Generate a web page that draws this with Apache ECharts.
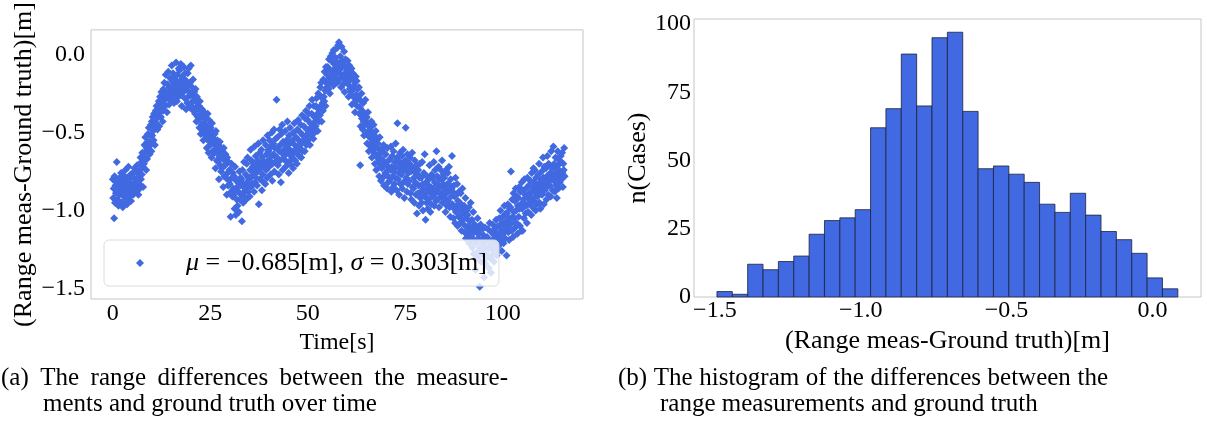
<!DOCTYPE html>
<html>
<head>
<meta charset="utf-8">
<script src="https://cdn.jsdelivr.net/npm/echarts@6/dist/echarts.min.js"></script>
<style>
  html, body { margin: 0; padding: 0; background: #fff; }
  #chart { width: 1207px; height: 434px; }
</style>
</head>
<body>
<div id="chart"></div>
<script>
// ---- (a) range error over time: one row per second of logging, values in metres ----
const rangeErrorBySecond = [
  [-0.80,-0.92,-0.86,-1.05,-0.78,-0.95,-0.84,-0.89,-0.82],
  [-0.69,-0.88,-0.93,-0.81,-0.97,-0.84,-0.90,-0.79,-0.87],
  [-0.83,-0.76,-0.95,-0.88,-0.80,-0.98,-0.85,-0.91,-0.78],
  [-0.90,-0.82,-0.74,-0.93,-0.86,-0.79,-0.96,-0.88,-0.84],
  [-0.72,-0.87,-0.80,-0.91,-0.85,-0.77,-0.94,-0.83,-0.89],
  [-0.84,-0.76,-0.90,-0.79,-0.86,-0.73,-0.88,-0.82,-0.75],
  [-0.80,-0.88,-0.71,-0.84,-0.76,-0.90,-0.78,-0.83,-0.86],
  [-0.74,-0.66,-0.80,-0.69,-0.77,-0.63,-0.72,-0.85,-0.68],
  [-0.70,-0.58,-0.66,-0.53,-0.62,-0.74,-0.60,-0.67,-0.56],
  [-0.51,-0.60,-0.47,-0.56,-0.64,-0.52,-0.58,-0.45,-0.62],
  [-0.43,-0.52,-0.40,-0.49,-0.55,-0.38,-0.46,-0.58,-0.44],
  [-0.36,-0.44,-0.33,-0.41,-0.48,-0.35,-0.39,-0.30,-0.46],
  [-0.37,-0.27,-0.31,-0.40,-0.24,-0.34,-0.29,-0.43,-0.36],
  [-0.22,-0.30,-0.18,-0.26,-0.33,-0.13,-0.28,-0.24,-0.37],
  [-0.19,-0.27,-0.11,-0.24,-0.32,-0.21,-0.15,-0.29,-0.25],
  [-0.22,-0.07,-0.17,-0.28,-0.12,-0.24,-0.31,-0.19,-0.14],
  [-0.16,-0.25,-0.05,-0.21,-0.30,-0.13,-0.18,-0.27,-0.09],
  [-0.23,-0.10,-0.17,-0.26,-0.06,-0.20,-0.33,-0.14,-0.21],
  [-0.15,-0.24,-0.08,-0.19,-0.28,-0.12,-0.22,-0.35,-0.17],
  [-0.20,-0.31,-0.12,-0.27,-0.09,-0.24,-0.34,-0.18,-0.26],
  [-0.07,-0.25,-0.33,-0.21,-0.30,-0.16,-0.36,-0.27,-0.24],
  [-0.29,-0.38,-0.22,-0.34,-0.43,-0.27,-0.31,-0.40,-0.35],
  [-0.42,-0.33,-0.47,-0.30,-0.39,-0.51,-0.36,-0.45,-0.35],
  [-0.50,-0.40,-0.55,-0.44,-0.37,-0.48,-0.41,-0.52,-0.45],
  [-0.46,-0.60,-0.53,-0.38,-0.49,-0.63,-0.42,-0.56,-0.51],
  [-0.58,-0.47,-0.53,-0.66,-0.44,-0.62,-0.50,-0.57,-0.54],
  [-0.63,-0.51,-0.57,-0.73,-0.49,-0.60,-0.68,-0.55,-0.64],
  [-0.69,-0.58,-0.80,-0.62,-0.56,-0.71,-0.66,-0.75,-0.60],
  [-0.73,-0.62,-0.66,-0.85,-0.60,-0.78,-0.68,-0.71,-0.64],
  [-0.79,-0.70,-0.90,-0.66,-0.76,-0.84,-0.69,-0.81,-0.74],
  [-0.83,-0.74,-1.04,-0.88,-0.70,-0.79,-0.91,-0.76,-0.86],
  [-0.90,-0.78,-0.99,-0.72,-0.87,-1.03,-0.81,-0.93,-0.85],
  [-0.97,-0.82,-0.88,-1.01,-0.75,-0.93,-0.84,-0.79,-0.90],
  [-0.80,-1.07,-0.74,-0.89,-0.95,-0.83,-0.69,-0.91,-0.86],
  [-0.86,-0.77,-0.93,-0.70,-0.82,-0.66,-0.88,-0.79,-0.84],
  [-0.80,-0.91,-0.74,-0.61,-0.85,-0.68,-0.78,-0.83,-0.72],
  [-0.77,-0.70,-0.88,-0.59,-0.82,-0.75,-0.65,-0.79,-0.72],
  [-0.84,-0.68,-0.75,-0.57,-0.96,-0.73,-0.63,-0.80,-0.70],
  [-0.73,-0.61,-0.87,-0.66,-0.77,-0.55,-0.82,-0.69,-0.71],
  [-0.70,-0.83,-0.58,-0.74,-0.64,-0.79,-0.52,-0.68,-0.62],
  [-0.61,-0.72,-0.55,-0.68,-0.77,-0.59,-0.65,-0.50,-0.81],
  [-0.70,-0.57,-0.64,-0.48,-0.75,-0.60,-0.69,-0.54,-0.66],
  [-0.29,-0.66,-0.53,-0.71,-0.59,-0.77,-0.62,-0.48,-0.68],
  [-0.58,-0.82,-0.51,-0.63,-0.45,-0.74,-0.56,-0.67,-0.61],
  [-0.65,-0.57,-0.49,-0.72,-0.62,-0.55,-0.69,-0.43,-0.60],
  [-0.58,-0.76,-0.52,-0.64,-0.47,-0.68,-0.56,-0.71,-0.62],
  [-0.66,-0.55,-0.73,-0.50,-0.63,-0.44,-0.58,-0.68,-0.61],
  [-0.53,-0.63,-0.70,-0.48,-0.60,-0.42,-0.55,-0.65,-0.58],
  [-0.60,-0.50,-0.45,-0.66,-0.57,-0.39,-0.62,-0.52,-0.55],
  [-0.46,-0.56,-0.62,-0.41,-0.53,-0.36,-0.58,-0.48,-0.51],
  [-0.42,-0.55,-0.38,-0.49,-0.33,-0.58,-0.44,-0.47,-0.52],
  [-0.38,-0.29,-0.48,-0.45,-0.54,-0.33,-0.40,-0.50,-0.43],
  [-0.46,-0.33,-0.28,-0.40,-0.38,-0.49,-0.25,-0.35,-0.43],
  [-0.26,-0.39,-0.21,-0.33,-0.18,-0.43,-0.28,-0.31,-0.36],
  [-0.16,-0.27,-0.30,-0.11,-0.23,-0.33,-0.08,-0.18,-0.21],
  [-0.13,-0.08,-0.19,-0.22,-0.03,-0.15,-0.25,-0.10,-0.01],
  [-0.04,-0.17,-0.14, 0.01,-0.11,-0.20, 0.03,-0.06,-0.09],
  [-0.09,-0.02,-0.15,-0.12, 0.04,-0.18,-0.05, 0.06,-0.07],
  [ 0.08,-0.10,-0.16,-0.01,-0.13,-0.21, 0.05,-0.04,-0.08],
  [-0.06,-0.19,-0.15, 0.02,-0.24,-0.12,-0.03,-0.08,-0.14],
  [-0.17,-0.10,-0.04,-0.19,-0.27,-0.12,-0.07,-0.22,-0.16],
  [-0.24,-0.15,-0.09,-0.32,-0.21,-0.12,-0.27,-0.17,-0.22],
  [-0.20,-0.37,-0.30,-0.14,-0.26,-0.17,-0.33,-0.22,-0.28],
  [-0.27,-0.21,-0.38,-0.34,-0.71,-0.46,-0.30,-0.25,-0.41],
  [-0.36,-0.48,-0.31,-0.43,-0.52,-0.39,-0.45,-0.29,-0.41],
  [-0.51,-0.40,-0.57,-0.44,-0.37,-0.49,-0.62,-0.46,-0.53],
  [-0.47,-0.59,-0.54,-0.43,-0.66,-0.50,-0.56,-0.61,-0.45],
  [-0.63,-0.52,-0.70,-0.58,-0.49,-0.74,-0.55,-0.66,-0.60],
  [-0.57,-0.69,-0.64,-0.78,-0.53,-0.72,-0.61,-0.81,-0.67],
  [-0.73,-0.61,-0.79,-0.68,-0.58,-0.84,-0.70,-0.64,-0.76],
  [-0.64,-0.77,-0.71,-0.86,-0.60,-0.74,-0.82,-0.68,-0.79],
  [-0.81,-0.67,-0.74,-0.59,-0.88,-0.72,-0.65,-0.78,-0.85],
  [-0.62,-0.75,-0.83,-0.69,-0.79,-0.57,-0.72,-0.87,-0.66],
  [-0.44,-0.80,-0.68,-0.76,-0.90,-0.73,-0.63,-0.83,-0.70],
  [-0.77,-0.65,-0.86,-0.71,-0.61,-0.82,-0.74,-0.92,-0.69],
  [-0.68,-0.47,-0.79,-0.73,-0.88,-0.64,-0.83,-0.76,-0.70],
  [-0.81,-0.70,-0.66,-0.89,-0.75,-0.93,-0.72,-0.63,-0.85],
  [-0.73,-0.86,-0.79,-0.95,-0.68,-0.82,-0.76,-0.90,-0.71],
  [-1.02,-0.77,-0.89,-0.74,-0.84,-0.97,-0.79,-0.70,-0.92],
  [-0.88,-0.79,-0.95,-0.69,-0.83,-1.00,-0.86,-0.76,-0.91],
  [-0.64,-0.90,-1.06,-0.82,-0.95,-0.78,-0.87,-0.99,-0.84],
  [-0.93,-0.80,-0.71,-0.88,-1.01,-0.85,-0.96,-0.77,-0.90],
  [-0.79,-0.91,-0.86,-0.69,-0.97,-0.82,-0.74,-0.89,-0.94],
  [-0.62,-0.87,-0.78,-0.93,-0.84,-0.72,-0.98,-0.80,-0.89],
  [-0.85,-0.74,-0.91,-0.80,-0.68,-0.95,-0.83,-0.77,-0.88],
  [-0.79,-0.92,-0.86,-1.01,-0.74,-0.89,-0.97,-0.83,-0.76],
  [-0.94,-0.83,-0.72,-0.98,-0.87,-1.04,-0.80,-0.91,-0.86],
  [-0.65,-0.96,-0.88,-1.05,-0.84,-0.99,-0.91,-1.08,-0.79],
  [-1.01,-0.90,-0.97,-0.83,-1.10,-0.94,-1.04,-0.88,-0.99],
  [-0.95,-1.08,-0.89,-1.03,-1.13,-0.98,-0.86,-1.06,-1.01],
  [-1.09,-0.97,-1.14,-1.02,-0.92,-1.18,-1.05,-1.00,-1.11],
  [-1.03,-1.16,-1.10,-0.98,-1.21,-1.07,-1.13,-0.95,-1.19],
  [-1.17,-1.06,-1.24,-1.11,-1.01,-1.28,-1.14,-1.09,-1.20],
  [-1.38,-1.10,-1.21,-1.14,-1.30,-1.05,-1.18,-1.26,-1.12],
  [-1.15,-1.49,-1.24,-1.09,-1.33,-1.19,-1.28,-1.12,-1.22],
  [-1.27,-1.16,-1.43,-1.21,-1.11,-1.34,-1.24,-1.18,-1.30],
  [-1.17,-1.29,-1.12,-1.25,-1.37,-1.20,-1.08,-1.23,-1.31],
  [-1.40,-1.14,-1.25,-1.19,-1.09,-1.28,-1.22,-1.33,-1.16],
  [-1.12,-1.24,-1.19,-1.06,-1.29,-1.15,-1.21,-1.10,-1.26],
  [-1.17,-1.05,-1.22,-1.10,-1.00,-1.19,-1.13,-1.26,-1.08],
  [-1.04,-1.15,-1.21,-1.09,-0.97,-1.12,-1.18,-1.02,-1.07],
  [-1.29,-1.02,-1.11,-0.96,-1.14,-1.05,-1.19,-0.99,-1.09],
  [-0.98,-0.75,-1.08,-1.13,-0.93,-1.04,-1.17,-0.89,-1.01],
  [-1.05,-0.94,-1.11,-0.86,-1.00,-1.08,-0.91,-1.15,-0.97],
  [-0.92,-1.04,-0.85,-0.99,-1.10,-0.88,-0.96,-1.13,-0.82],
  [-0.99,-1.13,-0.87,-0.93,-1.05,-0.80,-0.96,-0.90,-1.02],
  [-0.86,-0.97,-1.08,-0.79,-0.92,-1.01,-0.84,-0.95,-0.89],
  [-0.95,-0.81,-0.88,-1.03,-0.76,-0.92,-0.98,-0.85,-0.73],
  [-0.82,-0.94,-0.74,-0.89,-1.00,-0.79,-0.87,-0.96,-0.84],
  [-0.91,-0.77,-0.86,-0.70,-0.95,-0.82,-0.99,-0.88,-0.80],
  [-0.75,-0.90,-0.84,-0.66,-0.79,-0.96,-0.72,-0.87,-0.81],
  [-0.86,-0.73,-0.93,-0.78,-0.65,-0.83,-0.90,-0.70,-0.81],
  [-0.71,-0.84,-0.76,-0.91,-0.62,-0.80,-0.73,-0.87,-0.78],
  [-0.59,-0.81,-0.70,-0.88,-0.76,-0.66,-0.84,-0.73,-0.92],
  [-0.79,-0.62,-0.71,-0.86,-0.74,-0.68,-0.82,-0.77,-0.65],
  [-0.69,-0.80,-0.63,-0.76,-0.85,-0.70,-0.74,-0.60,-0.78]
];
const meanM = -0.685;
const stdM = 0.303;
const timeTicks = [0, 25, 50, 75, 100];
const errorTicks = [-1.5, -1.0, -0.5, 0.0];

// ---- (b) histogram of the same errors: 30 bins ----
const binEdges = [
  -1.4930, -1.4403, -1.3877, -1.3350, -1.2823, -1.2297, -1.1770, -1.1243,
  -1.0717, -1.0190, -0.9663, -0.9137, -0.8610, -0.8083, -0.7557, -0.7030,
  -0.6503, -0.5977, -0.5450, -0.4923, -0.4397, -0.3870, -0.3343, -0.2817,
  -0.2290, -0.1763, -0.1237, -0.0710, -0.0183,  0.0343,  0.0870
];
const binCounts = [2, 1, 12, 10, 13, 15, 23, 28, 29, 32, 62, 69, 89, 70, 95,
                   97, 68, 47, 48, 45, 42, 34, 31, 38, 30, 24, 21, 16, 7, 3];
const histXTicks = [-1.5, -1.0, -0.5, 0.0];
const histYTicks = [0, 25, 50, 75, 100];

const captionA = ['(a) The range differences between the measure-', 'ments and ground truth over time'];
const captionB = ['(b) The histogram of the differences between the', 'range measurements and ground truth'];

const FONT = '"Liberation Serif", "DejaVu Serif", serif';
const BLUE = '#4169E1';
const FRAME = '#c6c6c6';
const CAPTION_FONT = '25px ' + FONT;

const minus = s => String(s).replace(/-/g, '\u2212');
const oneDecimal = v => minus(Number(v).toFixed(1));

// readings spread evenly across each second
const scatterPoints = [];
rangeErrorBySecond.forEach((row, sec) => {
  row.forEach((v, k) => scatterPoints.push([sec + k / row.length, v]));
});

const seriesName = '\u03bc = ' + minus(meanM.toFixed(3)) + '[m], \u03c3 = ' + stdM.toFixed(3) + '[m]';

const tickText = { fontFamily: FONT, fontSize: 24, color: '#000' };
const nameText = { fontFamily: FONT, fontSize: 26, color: '#000' };

// justified caption line: words spread so the line runs from left to right
const measureCtx = document.createElement('canvas').getContext('2d');
function justifiedLine(text, left, right, top) {
  measureCtx.font = CAPTION_FONT;
  const words = text.split(' ');
  const widths = words.map(w => measureCtx.measureText(w).width);
  const gap = (right - left - widths.reduce((a, b) => a + b, 0)) / (words.length - 1);
  let x = left;
  return words.map((w, i) => {
    const el = { type: 'text', left: x, top: top, style: { text: w, font: CAPTION_FONT, fill: '#000' } };
    x += widths[i] + gap;
    return el;
  });
}
function plainLine(text, left, top) {
  return [{ type: 'text', left: left, top: top, style: { text: text, font: CAPTION_FONT, fill: '#000' } }];
}

const chart = echarts.init(document.getElementById('chart'), null, { renderer: 'canvas' });

chart.setOption({
  animation: false,
  backgroundColor: '#fff',
  grid: [
    { left: 91, top: 29, width: 492, height: 270, show: true, borderColor: FRAME, borderWidth: 1, containLabel: false },
    { left: 694, top: 19, width: 507, height: 278, show: true, borderColor: FRAME, borderWidth: 1, containLabel: false }
  ],
  xAxis: [
    {
      gridIndex: 0, type: 'value', min: -5.6, max: 120.6,
      axisLine: { show: false }, axisTick: { show: false }, splitLine: { show: false },
      axisLabel: Object.assign({ customValues: timeTicks, margin: 3, formatter: v => minus(v) }, tickText),
      name: 'Time[s]', nameLocation: 'middle', nameGap: 25,
      nameTextStyle: tickText
    },
    {
      gridIndex: 1, type: 'value', min: -1.5716, max: 0.1664,
      axisLine: { show: false }, axisTick: { show: false }, splitLine: { show: false },
      axisLabel: Object.assign({ customValues: histXTicks, margin: 2, formatter: oneDecimal }, tickText),
      name: '(Range meas-Ground truth)[m]', nameLocation: 'middle', nameGap: 24,
      nameTextStyle: nameText
    }
  ],
  yAxis: [
    {
      gridIndex: 0, type: 'value', min: -1.5685, max: 0.1585,
      axisLine: { show: false }, axisTick: { show: false }, splitLine: { show: false },
      axisLabel: Object.assign({ customValues: errorTicks, margin: 6, formatter: oneDecimal }, tickText),
      name: '(Range meas-Ground truth)[m]', nameLocation: 'middle', nameGap: 50,
      nameTextStyle: nameText
    },
    {
      gridIndex: 1, type: 'value', min: 0, max: 101.85,
      axisLine: { show: false }, axisTick: { show: false }, splitLine: { show: false },
      axisLabel: Object.assign({ customValues: histYTicks, margin: 3, formatter: v => minus(v) }, tickText),
      name: 'n(Cases)', nameLocation: 'middle', nameGap: 36,
      nameTextStyle: nameText
    }
  ],
  legend: {
    left: 104, top: 240,
    data: [{ name: seriesName, icon: 'diamond' }],
    itemWidth: 8, itemHeight: 8,
    padding: [9, 12, 9, 32],
    backgroundColor: 'rgba(255,255,255,0.8)',
    borderColor: '#dcdcdc', borderWidth: 1, borderRadius: 5,
    formatter: () => '{gap|}{it|\u03bc} = ' + minus(meanM.toFixed(3)) + '[m], {it|\u03c3} = ' + stdM.toFixed(3) + '[m]',
    textStyle: {
      fontFamily: FONT, fontSize: 26, color: '#000', lineHeight: 28,
      rich: {
        gap: { width: 37 },
        it: { fontFamily: FONT, fontSize: 26, fontStyle: 'italic', color: '#000' }
      }
    }
  },
  series: [
    {
      name: seriesName, type: 'scatter', xAxisIndex: 0, yAxisIndex: 0,
      symbol: 'diamond', symbolSize: 8,
      itemStyle: { color: BLUE, opacity: 1 },
      data: scatterPoints
    },
    {
      type: 'custom', xAxisIndex: 1, yAxisIndex: 1,
      data: binCounts.map((n, i) => [binEdges[i], binEdges[i + 1], n]),
      encode: { x: [0, 1], y: 2 },
      renderItem: (params, api) => {
        const topLeft = api.coord([api.value(0), api.value(2)]);
        const bottomRight = api.coord([api.value(1), 0]);
        return {
          type: 'rect',
          shape: { x: topLeft[0], y: topLeft[1], width: bottomRight[0] - topLeft[0], height: bottomRight[1] - topLeft[1] },
          style: { fill: BLUE, stroke: 'rgba(30,34,60,0.8)', lineWidth: 1 }
        };
      }
    }
  ],
  graphic: [].concat(
    justifiedLine(captionA[0], 1, 508, 366),
    plainLine(captionA[1], 43, 392),
    justifiedLine(captionB[0], 618, 1108, 366),
    plainLine(captionB[1], 660, 392)
  )
});
</script>
</body>
</html>
